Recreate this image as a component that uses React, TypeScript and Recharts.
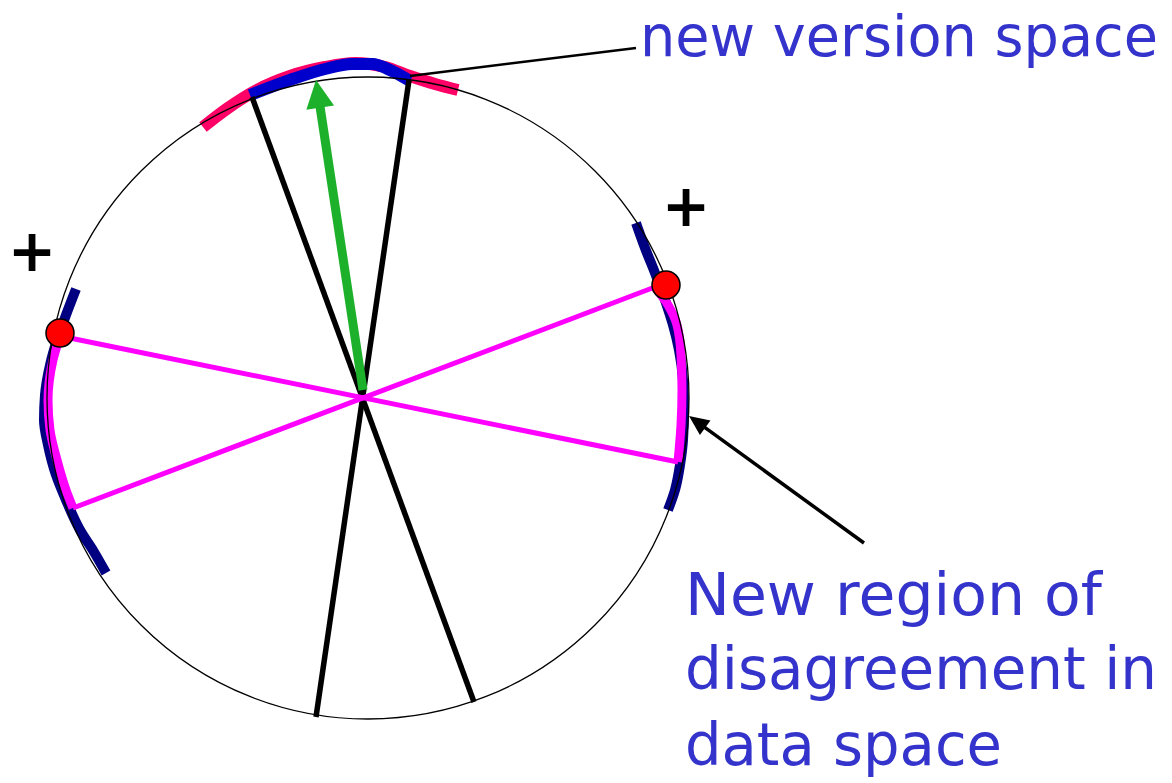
import React from 'react';
import { ComposedChart, XAxis, YAxis, Line, Scatter } from 'recharts';

// ---- geometry (data units = pixels) ----
const circleCenter = [{ x: 368, y: 398 }];
const circleRadius = 321;

const redArc = [
  { x: 203, y: 127 }, { x: 228, y: 108 }, { x: 255, y: 91 }, { x: 290, y: 76 },
  { x: 325, y: 67 }, { x: 355, y: 63 }, { x: 385, y: 67 }, { x: 410, y: 76 },
  { x: 435, y: 84 }, { x: 458, y: 90 },
];
const blueArc = [
  { x: 250, y: 95 }, { x: 290, y: 80 }, { x: 325, y: 69 }, { x: 352, y: 64 },
  { x: 372, y: 64 }, { x: 392, y: 71 }, { x: 410, y: 81 },
];
const navyLeft = [
  { x: 76, y: 289 }, { x: 66, y: 315 }, { x: 57, y: 340 }, { x: 50, y: 365 },
  { x: 45, y: 395 }, { x: 44, y: 420 }, { x: 48, y: 445 }, { x: 56, y: 475 },
  { x: 66, y: 500 }, { x: 80, y: 530 }, { x: 94, y: 552 }, { x: 106, y: 573 },
];
const navyRight = [
  { x: 636, y: 223 }, { x: 645, y: 248 }, { x: 655, y: 273 }, { x: 665, y: 300 },
  { x: 673, y: 325 }, { x: 679, y: 350 }, { x: 683, y: 380 }, { x: 684, y: 410 },
  { x: 683, y: 440 }, { x: 680, y: 465 }, { x: 675, y: 490 }, { x: 668, y: 510 },
];
const magentaLeft = [
  { x: 60, y: 336 }, { x: 53, y: 360 }, { x: 48, y: 400 }, { x: 50, y: 430 },
  { x: 57, y: 460 }, { x: 66, y: 490 }, { x: 73, y: 508 },
];
const magentaRight = [
  { x: 655, y: 287 }, { x: 668, y: 305 }, { x: 677, y: 325 }, { x: 681, y: 355 },
  { x: 682, y: 390 }, { x: 681, y: 425 }, { x: 678, y: 462 },
];
const blackLineA = [{ x: 252, y: 97 }, { x: 474, y: 702 }];
const blackLineB = [{ x: 409, y: 80 }, { x: 316, y: 717 }];
const magentaLineA = [{ x: 60, y: 336 }, { x: 678, y: 462 }];
const magentaLineB = [{ x: 655, y: 287 }, { x: 73, y: 508 }];
const pointerLine = [{ x: 410, y: 76 }, { x: 636, y: 48 }];
const greenArrow = [{ x: 363, y: 390 }, { x: 316, y: 80 }];
const blackArrow = [{ x: 864, y: 543 }, { x: 689, y: 416 }];
const redDots = [{ x: 60, y: 333 }, { x: 666, y: 285 }];
const plusMarks = [{ x: 32, y: 252, text: '+' }, { x: 686, y: 207, text: '+' }];

const titleText = ['new version space'];
const noteText = ['New region of', 'disagreement in', 'data space'];
const titleAnchors = [{ x: 640, y: 56, w: 518 }];
const noteAnchors = [
  { x: 685, y: 615, w: 417 },
  { x: 685, y: 689, w: 472 },
  { x: 685, y: 765, w: 317 },
];

const W = 1172;
const H = 783;
const TEXT_BLUE = '#3434cc';
const FONT = '"DejaVu Sans", "Noto Sans", sans-serif';

// arrow helpers (derived from the segments above)
function headOf(seg: { x: number; y: number }[]) {
  const [a, b] = seg;
  return [{ x: b.x, y: b.y, ang: Math.atan2(b.y - a.y, b.x - a.x) }];
}
function shaftOf(seg: { x: number; y: number }[], len: number) {
  const [a, b] = seg;
  const d = Math.hypot(b.x - a.x, b.y - a.y);
  const ux = (b.x - a.x) / d;
  const uy = (b.y - a.y) / d;
  return [a, { x: b.x - ux * (len - 2), y: b.y - uy * (len - 2) }];
}
function arrowShape(len: number, half: number, color: string) {
  return (p: any) => {
    const { cx, cy, payload } = p;
    const c = Math.cos(payload.ang);
    const s = Math.sin(payload.ang);
    const bx = cx - c * len;
    const by = cy - s * len;
    const pts = `${cx},${cy} ${bx - s * half},${by + c * half} ${bx + s * half},${by - c * half}`;
    return <polygon points={pts} fill={color} stroke="none" />;
  };
}

const titleData = titleText.map((t, i) => ({ ...titleAnchors[i], text: t }));
const noteData = noteText.map((t, i) => ({ ...noteAnchors[i], text: t }));

const makeTextShape = (size: number) => (p: any) => (
  <text
    x={p.cx}
    y={p.cy}
    fill={TEXT_BLUE}
    fontSize={size}
    fontFamily={FONT}
    textLength={p.payload.w}
    lengthAdjust="spacingAndGlyphs"
  >
    {p.payload.text}
  </text>
);

const plusShape = (p: any) => (
  <text x={p.cx} y={p.cy + 19} fill="#000" fontSize={58} fontWeight="bold" fontFamily={FONT} textAnchor="middle">
    {p.payload.text}
  </text>
);

const line = (data: any[], color: string, width: number, type: any = 'linear', key?: string) => (
  <Line
    key={key}
    data={data}
    dataKey="y"
    type={type}
    stroke={color}
    strokeWidth={width}
    dot={false}
    activeDot={false}
    isAnimationActive={false}
    strokeLinecap="butt"
    strokeLinejoin="round"
  />
);

export default function App() {
  return (
    <div style={{ position: 'absolute', left: 0, top: 0, width: W, height: H, background: '#fff' }}>
      <ComposedChart width={W} height={H} margin={{ top: 0, right: 0, bottom: 0, left: 0 }}>
        <XAxis type="number" dataKey="x" domain={[0, W]} allowDataOverflow hide />
        <YAxis type="number" dataKey="y" domain={[0, H]} allowDataOverflow reversed hide />
        <Scatter
          data={circleCenter}
          isAnimationActive={false}
          shape={(p: any) => <circle cx={p.cx} cy={p.cy} r={circleRadius} fill="none" stroke="#000" strokeWidth={1.3} />}
        />
        {line(redArc, '#ff0066', 12, 'monotoneX', 'red')}
        {line(blueArc, '#0000cc', 12, 'monotoneX', 'blue')}
        {line(blackLineA, '#000', 5.5, 'linear', 'ba')}
        {line(blackLineB, '#000', 5.5, 'linear', 'bb')}
        {line(shaftOf(greenArrow, 28), '#1db02a', 9, 'linear', 'g')}
        <Scatter data={headOf(greenArrow)} isAnimationActive={false} shape={arrowShape(28, 14, '#1db02a')} />
        {line(navyLeft, '#000080', 10, 'monotoneY', 'nl')}
        {line(navyRight, '#000080', 10, 'monotoneY', 'nr')}
        <Scatter
          data={redDots}
          isAnimationActive={false}
          shape={(p: any) => <circle cx={p.cx} cy={p.cy} r={14} fill="#ff0000" stroke="#000" strokeWidth={1.5} />}
        />
        {line(magentaLineA, '#ff00ff', 5, 'linear', 'ma')}
        {line(magentaLineB, '#ff00ff', 5, 'linear', 'mb')}
        {line(magentaLeft, '#ff00ff', 9, 'monotoneY', 'ml')}
        {line(magentaRight, '#ff00ff', 9, 'monotoneY', 'mr')}
        {line(pointerLine, '#000', 2.5, 'linear', 'pl')}
        {line(shaftOf(blackArrow, 18), '#000', 3.5, 'linear', 'ar')}
        <Scatter data={headOf(blackArrow)} isAnimationActive={false} shape={arrowShape(20, 9, '#000')} />
        <Scatter data={plusMarks} isAnimationActive={false} shape={plusShape} />
        <Scatter data={titleData} isAnimationActive={false} shape={makeTextShape(57)} />
        <Scatter data={noteData} isAnimationActive={false} shape={makeTextShape(59)} />
      </ComposedChart>
    </div>
  );
}
